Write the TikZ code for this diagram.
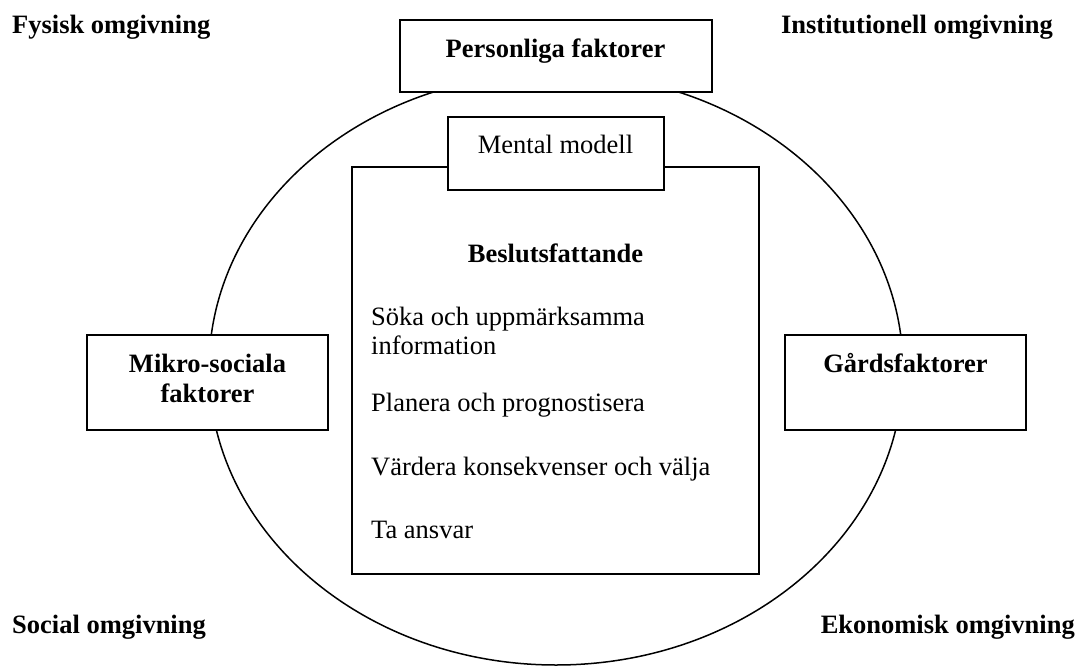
\documentclass[tikz,border=0pt]{standalone}
\usepackage{fontspec}
\setmainfont{Liberation Serif}
\usetikzlibrary{positioning}

\begin{document}
\begin{tikzpicture}[x=1pt, y=-1pt,
    font=\fontsize{26.5pt}{30pt}\selectfont,
    omgivning/.style={font=\fontsize{26.5pt}{30pt}\selectfont\bfseries, inner sep=0pt},
    ruta/.style={draw, fill=white, line width=2pt, inner sep=0pt, align=flush center},
    faktor/.style={ruta, font=\fontsize{26.5pt}{30pt}\selectfont\bfseries},
    rad/.style={inner sep=0pt}]
    \useasboundingbox (0,0) rectangle (1080,667);
    % The surrounding circle
    \draw[line width=1.5pt] (556,369) ellipse [x radius=347, y radius=296];
    % Corner labels
    \node[omgivning, anchor=base west] (fysisk) at (12,33) {Fysisk omgivning};
    \node[omgivning, anchor=base east] (institutionell) at (1053,33) {Institutionell omgivning};
    \node[omgivning, anchor=base west] (social) at (12,633) {Social omgivning};
    \node[omgivning, anchor=base east] (ekonomisk) at (1075,633) {Ekonomisk omgivning};
    % Decision box
    \node[ruta,
          minimum width=407pt,
          minimum height=407pt] (beslut) at (555.5,370.5) {};
    \node[omgivning,
          below=96pt of beslut.north,
          anchor=base] (rubrik) {Beslutsfattande};
    \node[rad,
          below right=159pt and 20pt of beslut.north west,
          anchor=base west] (soka) {Söka och uppmärksamma};
    \node[rad,
          below=29pt of soka.base west,
          anchor=base west] (info) {information};
    \node[rad,
          below=57pt of info.base west,
          anchor=base west] (planera) {Planera och prognostisera};
    \node[rad,
          below=64pt of planera.base west,
          anchor=base west] (vardera) {Värdera konsekvenser och välja};
    \node[rad,
          below=63pt of vardera.base west,
          anchor=base west] (ansvar) {Ta ansvar};
    % Boxes on top
    \node[ruta,
          text width=216pt,
          text height=36pt,
          text depth=37pt,
          above=13pt of beslut.north,
          anchor=base] (mental) {Mental modell};
    \node[faktor,
          text width=312pt,
          text height=37pt,
          text depth=35pt,
          above=23pt of mental.north] (personliga) {Personliga faktorer};
    \node[faktor,
          text width=241pt,
          text height=37pt,
          text depth=58pt,
          anchor=base] (mikro) at (207.5,372) {Mikro-sociala\\ faktorer};
    \node[faktor,
          text width=241pt,
          text height=37pt,
          text depth=58pt,
          right=455pt of mikro] (gards) {Gårdsfaktorer};
\end{tikzpicture}
\end{document}
